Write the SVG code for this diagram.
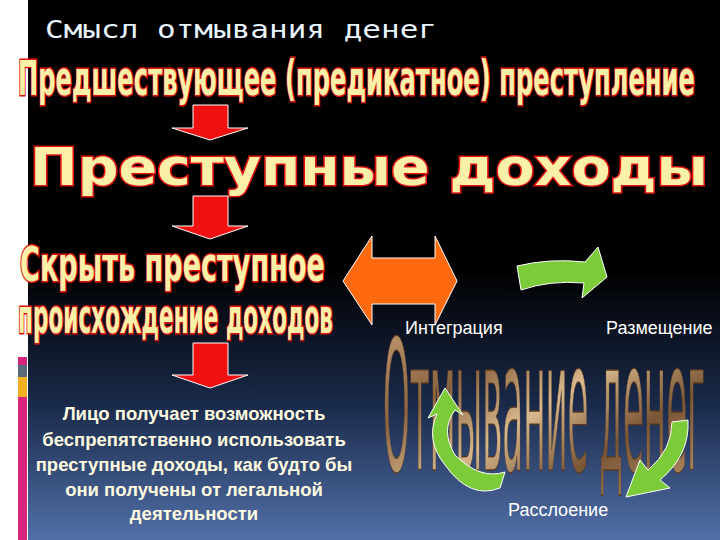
<svg xmlns="http://www.w3.org/2000/svg" width="720" height="540" viewBox="0 0 720 540">
<defs>
<linearGradient id="bg" x1="0" y1="0" x2="0" y2="1">
<stop offset="0" stop-color="#000"/><stop offset="0.5" stop-color="#000"/><stop offset="0.75" stop-color="#1a2a4a"/><stop offset="1" stop-color="#5270a8"/>
</linearGradient>
<linearGradient id="tan" x1="0" y1="0" x2="1" y2="1">
<stop offset="0" stop-color="#c9a57a"/><stop offset="0.3" stop-color="#8a6340"/><stop offset="0.5" stop-color="#d8b88c"/><stop offset="0.7" stop-color="#7a5535"/><stop offset="1" stop-color="#c6a074"/>
</linearGradient>
<style>
.wa{font-family:"DejaVu Sans Condensed","DejaVu Sans",sans-serif;font-weight:bold;fill:#fbf0a8;stroke:#e01010;stroke-width:3;paint-order:stroke;}
.lbl{font-family:"Liberation Sans",Arial,sans-serif;font-size:18px;fill:#fff;}
.body{font-family:"Liberation Sans",Arial,sans-serif;font-size:18.5px;font-weight:bold;fill:#fffbe0;text-anchor:middle;}
.red{fill:#f01010;stroke:#fff;stroke-width:1;}
.grn{fill:#7ccc3a;stroke:#fff;stroke-width:1;}
</style>
</defs>
<rect width="720" height="540" fill="#fff"/>
<rect x="28" y="0" width="692" height="540" fill="url(#bg)"/>
<g id="strip">
<rect x="18" y="357" width="9" height="8" fill="#d8247a"/>
<rect x="18" y="365" width="9" height="12" fill="#5a6a7a"/>
<rect x="18" y="377" width="9" height="20" fill="#f0b020"/>
<rect x="18" y="397" width="9" height="143" fill="#d8247a"/>
</g>
<text x="45" y="38" font-family="DejaVu Sans Mono,monospace" font-size="25" fill="#e8f4ff" textLength="392" lengthAdjust="spacingAndGlyphs">Смысл отмывания денег</text>
<g id="n1"><text class="wa" x="18" y="95" font-size="48" textLength="677" lengthAdjust="spacingAndGlyphs">Предшествующее (предикатное) преступление</text></g>
<g id="n2"><text class="wa" x="30" y="185" font-size="52" style="font-family:'DejaVu Sans',sans-serif;font-weight:900" textLength="678" lengthAdjust="spacingAndGlyphs">Преступные доходы</text></g>
<g id="n3"><text class="wa" x="20" y="281" font-size="48" textLength="305" lengthAdjust="spacingAndGlyphs">Скрыть преступное</text>
<text class="wa" x="18" y="333" font-size="48" textLength="315" lengthAdjust="spacingAndGlyphs">происхождение доходов</text></g>
<g id="n4">
<text class="body" x="194" y="420">Лицо получает возможность</text>
<text class="body" x="194" y="446">беспрепятственно использовать</text>
<text class="body" x="194" y="471">преступные доходы, как будто бы</text>
<text class="body" x="194" y="496">они получены от легальной</text>
<text class="body" x="194" y="520">деятельности</text>
</g>
<g id="n5" transform="translate(0,470) scale(1,1.3) translate(0,-470)"><text x="383" y="470" font-family="DejaVu Sans Condensed,sans-serif" font-size="140" fill="url(#tan)" stroke="#5a3a20" stroke-width="1" textLength="322" lengthAdjust="spacingAndGlyphs">Отмывание денег</text></g>
<g id="labels">
<text class="lbl" x="405" y="334">Интеграция</text>
<text class="lbl" x="606" y="334">Размещение</text>
<text class="lbl" x="508" y="516">Расслоение</text>
</g>
<g id="connectors">
<path class="red" d="M193 105H228V128H248L210 140L172 128H193Z"/>
<path class="red" d="M193 196H228V226H248L210 239L172 226H193Z"/>
<path class="red" d="M193 343H228V375H248L210 388L172 375H193Z"/>
<path d="M343 281L372 236V258H435V236L457 281L435 325V304H372V325Z" fill="#ff6a10" stroke="#fff" stroke-width="1"/>
<path class="grn" d="M517 266Q550 258 585 262L598 247L607 277L582 298L584 283Q550 280 521 290Z"/>
<path class="grn" d="M505 472Q480 480 455 455Q440 430 455 410L463 415L445 388L428 418L437 414Q425 440 445 465Q470 500 500 488Z"/>
<path class="grn" d="M688 420Q690 455 660 480L670 488L626 497L640 460L648 470Q672 450 672 422Z"/>
</g>
</svg>
